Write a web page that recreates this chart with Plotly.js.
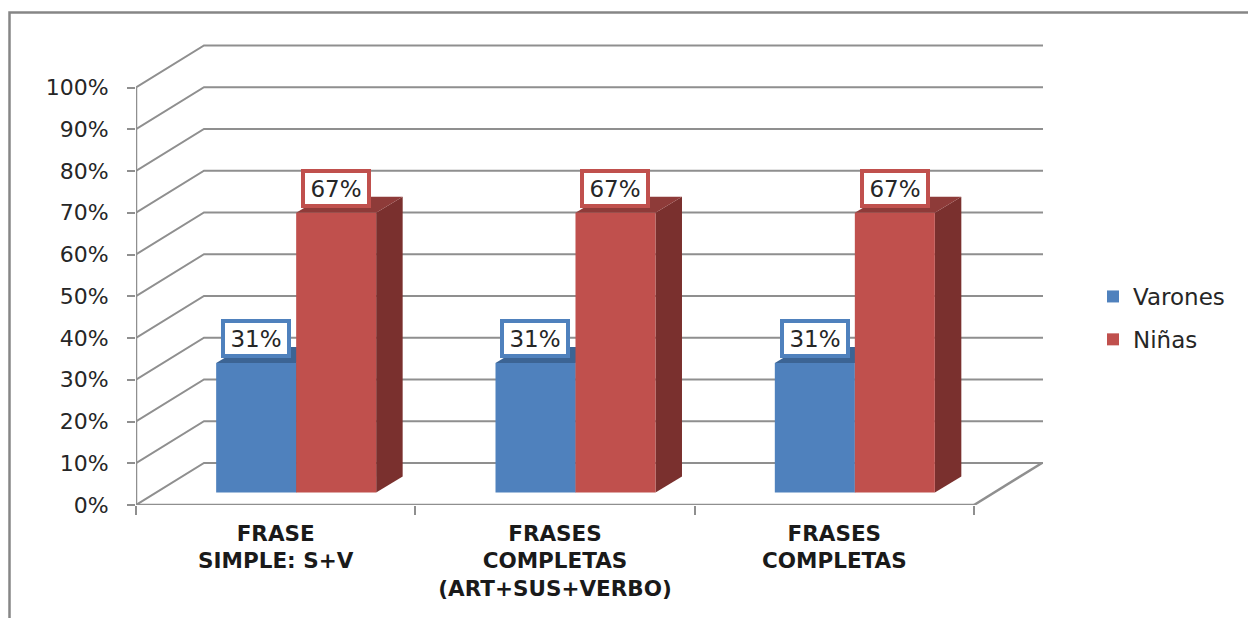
<!DOCTYPE html>
<html><head><meta charset="utf-8">
<script src="https://cdn.plot.ly/plotly-3.0.1.min.js"></script>
<style>html,body{margin:0;padding:0;background:#fff}#c{width:1248px;height:618px}</style>
</head><body><div id="c"></div>
<script>
const categories = ["FRASE<br>SIMPLE: S+V", "FRASES<br>COMPLETAS<br>(ART+SUS+VERBO)", "FRASES<br>COMPLETAS"];
const varones = [31, 31, 31];
const ninas = [67, 67, 67];
const yTicks = [0,10,20,30,40,50,60,70,80,90,100];
const yTickLabels = yTicks.map(v => v + "%");

// pixel metrics of the plot
const W = 1248, H = 618, L = 136, B = 505, R = 1048, T = 40;
const pxX = 279.33, pxY = 4.175;
const depthX = 68 / pxX, depthY = 42 / pxY;        // floor depth
const frontX = 20.5 / pxX, frontY = 12.5 / pxY;    // gap in front of bars
const barW = 80 / pxX, sideX = 26.5 / pxX, sideY = 16 / pxY;
const xMax = (R - L) / pxX, yMax = (B - T) / pxY;
const GRID = "#8f8f8f", AX = "#8f8f8f";
const centers = categories.map((_, i) => i + 0.5 + frontX);
const nCat = categories.length;

const shapes = [];
yTicks.forEach(v => shapes.push({type:"path", layer:"below", xref:"x", yref:"y",
  path:`M0,${v} L${depthX},${v+depthY} L${xMax-5/pxX},${v+depthY}`,
  line:{color:GRID, width:2}}));

function faces(vals, off, topCol, sideCol){
  vals.forEach((v,i) => {
    const x0 = centers[i]+off-barW/2, x1 = x0+barW, y = frontY+v, y0 = frontY;
    shapes.push({type:"path", layer:"below", xref:"x", yref:"y", line:{width:0}, fillcolor:sideCol,
      path:`M${x1},${y0} L${x1+sideX},${y0+sideY} L${x1+sideX},${y+sideY} L${x1},${y} Z`});
    shapes.push({type:"path", layer:"below", xref:"x", yref:"y", line:{width:0}, fillcolor:topCol,
      path:`M${x0},${y} L${x0+sideX},${y+sideY} L${x1+sideX},${y+sideY} L${x1},${y} Z`});
  });
}
faces(varones, -barW/2, "#3c6494", "#2f5078");
faces(ninas, barW/2, "#8e3b39", "#7a302e");

// outer frame of the picture
const fx = px => (px - L) / (R - L), fy = py => (B - py) / (B - T);
shapes.push({type:"path", xref:"paper", yref:"paper", layer:"below",
  path:`M${fx(9.5)},${fy(H+5)} L${fx(9.5)},${fy(12.5)} L${fx(W+5)},${fy(12.5)}`,
  line:{color:"#868686", width:2.5}});

const axisFont = {family:"DejaVu Sans", size:22, color:"#262626"};
const labelFont = {family:"DejaVu Sans", size:23, color:"#262626"};
function labels(vals, off, col){
  return vals.map((v,i) => ({x:centers[i]+off, y:frontY+v+24.5/pxY, xref:"x", yref:"y",
    text:v+"%", showarrow:false, xanchor:"center", yanchor:"middle",
    font:labelFont, bgcolor:"#fff", bordercolor:col, borderwidth:4, borderpad:0, width:62, height:31}));
}

const line = (x,y) => ({x, y, type:"scatter", mode:"lines", cliponaxis:false, showlegend:false,
  hoverinfo:"skip", line:{color:AX, width:2.5}});

const data = [
  {type:"bar", name:"Varones", legendgroup:"a", x:centers, y:varones, base:frontY, marker:{color:"#4f81bd"}},
  {type:"bar", name:"Niñas", legendgroup:"b", x:centers, y:ninas, base:frontY, marker:{color:"#c0504d"}},
  line([0,0],[0,100]),
  line([0,nCat],[0,0]),
  line([nCat,nCat+depthX],[0,depthY])
];

const layout = {
  width:W, height:H, autosize:false, paper_bgcolor:"#fff", plot_bgcolor:"rgba(0,0,0,0)",
  margin:{l:L, r:W-R, t:T, b:H-B, pad:0},
  barmode:"group", bargap:1-2*barW, bargroupgap:0,
  xaxis:{range:[0,xMax], tickmode:"array", tickvals:categories.map((_,i)=>i+0.5), ticktext:categories,
    ticks:"", showgrid:false, zeroline:false, showline:false, tickangle:0, automargin:false,
    ticklabelstandoff:13,
    tickfont:{family:"DejaVu Sans", size:21.5, color:"#1a1a1a", weight:700},
    minor:{tickmode:"array", tickvals:[0,1,2,3], ticks:"outside", ticklen:9, tickwidth:2, tickcolor:AX, showgrid:false}},
  yaxis:{range:[0,yMax], tickmode:"array", tickvals:yTicks, ticktext:yTickLabels,
    ticks:"outside", ticklen:8, tickwidth:2, tickcolor:AX, showgrid:false, zeroline:false, showline:false, automargin:false,
    ticklabelstandoff:14, tickfont:axisFont},
  legend:{x:(1093-L)/(R-L), y:(B-275)/(B-T), xanchor:"left", yanchor:"top", traceorder:"grouped", tracegroupgap:10,
    bgcolor:"rgba(0,0,0,0)", font:{family:"DejaVu Sans", size:23, color:"#262626"}, itemwidth:30},
  shapes,
  annotations:[...labels(varones,-barW/2,"#4f81bd"), ...labels(ninas,barW/2,"#c0504d")]
};
Plotly.newPlot("c", data, layout, {displayModeBar:false, staticPlot:true});
</script></body></html>
